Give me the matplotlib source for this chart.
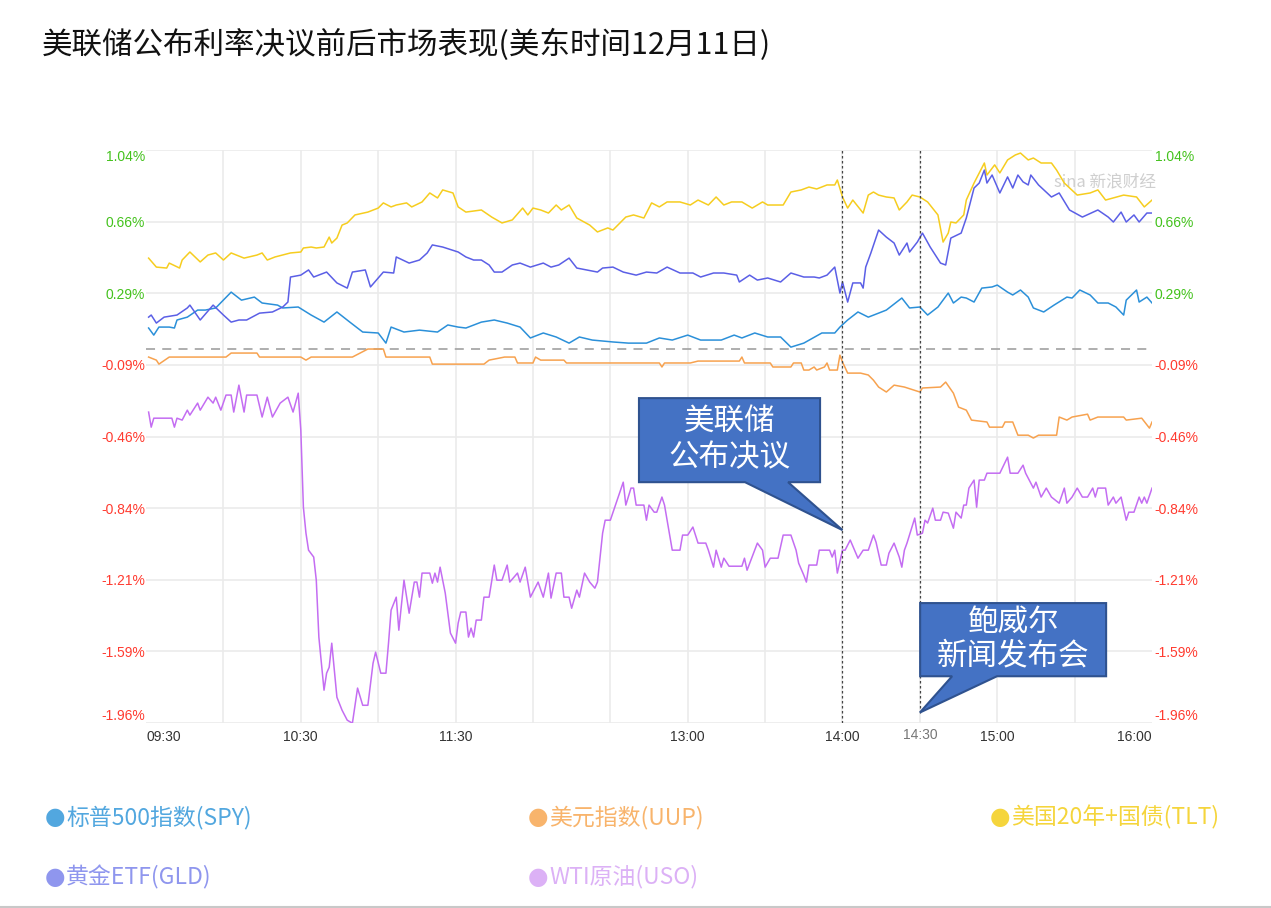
import matplotlib
matplotlib.use("Agg")
import matplotlib.pyplot as plt
from matplotlib.patches import Polygon
from matplotlib.lines import Line2D

plt.rcParams['font.family'] = ['Noto Sans CJK SC', 'DejaVu Sans']

# minutes after 09:30, percent change
spy = [(1, 0.108), (3, 0.071), (5, 0.113), (9, 0.113), (11, 0.108), (12, 0.150), (16, 0.165), (20, 0.202),
       (23, 0.202), (27, 0.213), (33, 0.296), (37, 0.254), (42, 0.270), (45, 0.239), (51, 0.228), (53, 0.213),
       (59, 0.218), (64, 0.176), (69, 0.139), (74, 0.192), (79, 0.139), (84, 0.087), (90, 0.082), (93, 0.029),
       (95, 0.113), (100, 0.087), (106, 0.097), (113, 0.087), (117, 0.124), (121, 0.113), (124, 0.108),
       (130, 0.139), (135, 0.150), (140, 0.134), (145, 0.113), (149, 0.056), (154, 0.082), (159, 0.061),
       (164, 0.029), (168, 0.061), (173, 0.045), (181, 0.035), (187, 0.029), (194, 0.029), (199, 0.056),
       (204, 0.045), (210, 0.071), (215, 0.045), (223, 0.045), (228, 0.071), (231, 0.056), (236, 0.082),
       (241, 0.061), (246, 0.061), (250, 0.008), (255, 0.029), (262, 0.082), (267, 0.082), (269, 0.113),
       (272, 0.150), (276, 0.192), (280, 0.165), (284, 0.186), (287, 0.202), (293, 0.265), (296, 0.213),
       (300, 0.218), (303, 0.176), (307, 0.218), (311, 0.291), (313, 0.239), (316, 0.270), (318, 0.265),
       (321, 0.244), (324, 0.317), (328, 0.323), (330, 0.333), (334, 0.296), (336, 0.281), (339, 0.307),
       (342, 0.270), (344, 0.213), (348, 0.192), (352, 0.228), (357, 0.270), (359, 0.265), (362, 0.307),
       (366, 0.281), (369, 0.239), (373, 0.239), (376, 0.218), (379, 0.176), (380, 0.254), (384, 0.307),
       (385, 0.244), (388, 0.270), (390, 0.239)]

uup = [(1, -0.044), (4, -0.060), (5, -0.081), (9, -0.044), (31, -0.044), (33, -0.023), (43, -0.023),
       (44, -0.044), (60, -0.044), (62, -0.060), (64, -0.044), (80, -0.044), (83, -0.023), (86, -0.002),
       (92, -0.002), (93, -0.044), (110, -0.044), (111, -0.081), (131, -0.081), (133, -0.060), (139, -0.044),
       (143, -0.044), (144, -0.075), (150, -0.075), (151, -0.044), (153, -0.060), (162, -0.060), (163, -0.075),
       (199, -0.075), (200, -0.096), (201, -0.075), (211, -0.075), (214, -0.065), (230, -0.065), (231, -0.044),
       (232, -0.075), (242, -0.075), (243, -0.096), (250, -0.096), (251, -0.075), (254, -0.075), (255, -0.112),
       (257, -0.112), (259, -0.096), (260, -0.112), (263, -0.096), (264, -0.075), (265, -0.112), (268, -0.112),
       (269, -0.034), (270, -0.070), (272, -0.128), (277, -0.128), (280, -0.138), (282, -0.165), (284, -0.201),
       (287, -0.227), (290, -0.191), (294, -0.201), (300, -0.227), (301, -0.206), (308, -0.201), (310, -0.175),
       (313, -0.233), (315, -0.306), (318, -0.322), (320, -0.374), (326, -0.384), (327, -0.411), (332, -0.411),
       (333, -0.384), (336, -0.384), (338, -0.453), (342, -0.453), (344, -0.468), (346, -0.453), (353, -0.453),
       (354, -0.358), (357, -0.374), (359, -0.358), (365, -0.343), (366, -0.374), (369, -0.358), (379, -0.358),
       (380, -0.374), (386, -0.364), (389, -0.416), (390, -0.384)]

tlt = [(1, 0.474), (4, 0.427), (8, 0.422), (9, 0.448), (13, 0.422), (14, 0.464), (17, 0.506), (21, 0.454),
       (24, 0.490), (27, 0.501), (30, 0.464), (33, 0.501), (38, 0.474), (43, 0.490), (45, 0.501), (47, 0.464),
       (50, 0.480), (56, 0.501), (60, 0.506), (61, 0.527), (64, 0.532), (66, 0.527), (69, 0.532), (71, 0.584),
       (72, 0.553), (74, 0.579), (76, 0.647), (78, 0.658), (81, 0.700), (86, 0.715), (90, 0.736), (92, 0.763),
       (95, 0.742), (97, 0.752), (101, 0.763), (103, 0.742), (107, 0.768), (110, 0.815), (113, 0.789),
       (115, 0.831), (119, 0.815), (121, 0.742), (124, 0.715), (130, 0.726), (134, 0.689), (138, 0.658),
       (142, 0.674), (146, 0.736), (148, 0.700), (150, 0.736), (153, 0.726), (156, 0.710), (159, 0.752),
       (161, 0.726), (164, 0.752), (167, 0.684), (172, 0.647), (175, 0.611), (179, 0.632), (181, 0.621),
       (186, 0.689), (189, 0.700), (193, 0.684), (196, 0.763), (199, 0.742), (202, 0.768), (207, 0.768),
       (211, 0.752), (214, 0.778), (218, 0.752), (221, 0.794), (224, 0.752), (227, 0.768), (231, 0.768),
       (235, 0.736), (239, 0.768), (241, 0.752), (247, 0.752), (250, 0.820), (254, 0.831), (257, 0.846),
       (260, 0.836), (264, 0.857), (267, 0.857), (268, 0.883), (270, 0.794), (272, 0.736), (274, 0.778),
       (278, 0.710), (280, 0.804), (282, 0.820), (284, 0.804), (287, 0.794), (290, 0.789), (292, 0.726),
       (295, 0.768), (297, 0.804), (300, 0.794), (303, 0.768), (307, 0.700), (309, 0.558), (311, 0.605),
       (312, 0.663), (314, 0.658), (317, 0.700), (318, 0.778), (321, 0.867), (323, 0.920), (325, 0.972),
       (326, 0.909), (329, 0.962), (331, 0.920), (334, 0.988), (337, 1.014), (339, 1.024), (342, 0.988),
       (344, 0.998), (347, 0.972), (351, 0.972), (353, 0.935), (356, 0.867), (361, 0.804), (366, 0.815),
       (369, 0.831), (372, 0.778), (375, 0.789), (379, 0.804), (384, 0.794), (387, 0.742), (390, 0.778)]

gld = [(1, 0.165), (2, 0.176), (4, 0.134), (7, 0.165), (12, 0.176), (16, 0.213), (17, 0.228), (21, 0.150),
       (26, 0.228), (30, 0.176), (33, 0.139), (36, 0.150), (39, 0.150), (44, 0.186), (49, 0.192), (53, 0.218),
       (55, 0.244), (56, 0.375), (60, 0.385), (63, 0.412), (65, 0.375), (70, 0.401), (74, 0.344), (78, 0.317),
       (80, 0.401), (85, 0.412), (87, 0.323), (92, 0.401), (96, 0.396), (97, 0.480), (102, 0.448), (106, 0.464),
       (109, 0.501), (111, 0.543), (115, 0.532), (121, 0.506), (124, 0.480), (127, 0.464), (130, 0.464),
       (133, 0.438), (135, 0.401), (138, 0.401), (142, 0.438), (145, 0.448), (149, 0.427), (154, 0.448),
       (157, 0.427), (160, 0.438), (164, 0.474), (167, 0.422), (175, 0.401), (177, 0.422), (181, 0.427),
       (185, 0.401), (190, 0.385), (194, 0.401), (198, 0.396), (202, 0.427), (207, 0.396), (212, 0.396),
       (215, 0.375), (220, 0.396), (224, 0.396), (229, 0.385), (230, 0.349), (234, 0.385), (237, 0.359),
       (241, 0.370), (246, 0.349), (250, 0.396), (255, 0.375), (259, 0.375), (261, 0.370), (264, 0.385),
       (267, 0.427), (269, 0.291), (270, 0.349), (272, 0.244), (274, 0.344), (277, 0.344), (278, 0.317),
       (279, 0.427), (281, 0.501), (284, 0.621), (287, 0.584), (290, 0.553), (292, 0.490), (295, 0.553),
       (296, 0.506), (299, 0.558), (301, 0.605), (304, 0.532), (308, 0.448), (310, 0.438), (312, 0.579),
       (316, 0.605), (318, 0.684), (321, 0.841), (323, 0.867), (325, 0.935), (326, 0.867), (328, 0.909),
       (331, 0.815), (334, 0.899), (336, 0.841), (338, 0.909), (340, 0.873), (342, 0.857), (343, 0.909),
       (346, 0.857), (351, 0.794), (354, 0.815), (358, 0.726), (363, 0.689), (369, 0.726), (373, 0.689),
       (375, 0.663), (378, 0.715), (380, 0.663), (383, 0.700), (385, 0.663), (388, 0.710), (390, 0.710)]

uso = [(1, -0.332), (2, -0.411), (3, -0.364), (10, -0.364), (11, -0.411), (12, -0.364), (14, -0.374),
       (16, -0.322), (17, -0.348), (20, -0.285), (21, -0.322), (24, -0.254), (26, -0.285), (27, -0.254),
       (29, -0.322), (31, -0.243), (33, -0.243), (34, -0.332), (36, -0.191), (38, -0.332), (39, -0.243),
       (43, -0.243), (45, -0.358), (47, -0.254), (49, -0.358), (52, -0.285), (55, -0.254), (57, -0.332),
       (59, -0.233), (60, -0.426), (61, -0.830), (62, -0.966), (63, -1.055), (65, -1.091), (66, -1.212),
       (67, -1.510), (69, -1.788), (70, -1.699), (71, -1.668), (72, -1.542), (73, -1.683), (74, -1.825),
       (76, -1.893), (78, -1.945), (80, -1.961), (82, -1.777), (84, -1.867), (86, -1.867), (88, -1.647),
       (89, -1.589), (91, -1.699), (93, -1.699), (94, -1.542), (95, -1.369), (97, -1.301), (98, -1.474),
       (100, -1.212), (102, -1.385), (104, -1.222), (105, -1.222), (106, -1.301), (107, -1.175), (110, -1.175),
       (111, -1.228), (112, -1.175), (113, -1.222), (114, -1.144), (116, -1.280), (118, -1.489), (120, -1.542),
       (121, -1.437), (122, -1.379), (124, -1.379), (125, -1.510), (126, -1.463), (127, -1.510), (128, -1.421),
       (130, -1.421), (131, -1.301), (133, -1.301), (135, -1.133), (136, -1.212), (138, -1.212), (140, -1.133),
       (141, -1.222), (144, -1.175), (145, -1.222), (147, -1.144), (149, -1.301), (152, -1.222), (154, -1.301),
       (156, -1.175), (157, -1.306), (159, -1.175), (161, -1.175), (162, -1.301), (164, -1.301), (165, -1.359),
       (167, -1.264), (168, -1.301), (170, -1.175), (172, -1.222), (174, -1.254), (175, -1.222), (177, -0.966),
       (178, -0.898), (180, -0.898), (185, -0.699), (186, -0.819), (188, -0.730), (189, -0.730), (190, -0.819),
       (193, -0.819), (194, -0.898), (195, -0.819), (197, -0.856), (198, -0.856), (200, -0.777), (201, -0.819),
       (204, -1.055), (207, -1.055), (208, -0.976), (210, -0.976), (212, -0.934), (214, -1.018), (217, -1.018),
       (218, -1.055), (220, -1.144), (221, -1.055), (223, -1.144), (224, -1.097), (226, -1.139), (231, -1.139),
       (232, -1.097), (233, -1.160), (237, -1.018), (239, -1.055), (240, -1.144), (242, -1.097), (245, -1.097),
       (247, -0.976), (250, -0.976), (252, -1.055), (253, -1.123), (255, -1.186), (256, -1.222), (257, -1.133),
       (260, -1.133), (261, -1.055), (265, -1.055), (266, -1.091), (267, -1.055), (268, -1.175), (270, -1.055),
       (271, -1.055), (273, -1.002), (276, -1.097), (278, -1.055), (280, -1.055), (282, -0.976), (283, -1.013),
       (285, -1.133), (287, -1.133), (288, -1.071), (290, -1.018), (292, -1.091), (293, -1.144), (294, -1.055),
       (295, -1.018), (298, -0.887), (299, -0.976), (301, -0.966), (302, -0.898), (303, -0.913), (305, -0.835),
       (306, -0.898), (308, -0.898), (309, -0.856), (311, -0.861), (313, -0.940), (314, -0.856), (316, -0.887),
       (317, -0.819), (318, -0.819), (319, -0.730), (321, -0.688), (322, -0.830), (323, -0.688), (325, -0.688),
       (326, -0.652), (331, -0.652), (334, -0.568), (335, -0.652), (338, -0.652), (340, -0.610), (341, -0.652),
       (344, -0.730), (345, -0.699), (347, -0.777), (349, -0.730), (351, -0.777), (354, -0.809), (356, -0.730),
       (357, -0.809), (359, -0.777), (361, -0.730), (363, -0.777), (365, -0.777), (367, -0.730), (368, -0.777),
       (369, -0.730), (372, -0.730), (373, -0.819), (375, -0.777), (376, -0.809), (378, -0.777), (380, -0.898),
       (381, -0.856), (383, -0.856), (385, -0.777), (386, -0.809), (387, -0.777), (388, -0.809), (390, -0.730)]

series_names = ['标普500指数(SPY)', '美元指数(UUP)', '美国20年+国债(TLT)', '黄金ETF(GLD)', 'WTI原油(USO)']
line_colors = ['#2b90d9', '#f7a24f', '#f6cd1f', '#5b5fe6', '#c46df2']
legend_colors = ['#52a7df', '#f8b46c', '#f5d53c', '#8f96ee', '#dcb1f6']

xtick_pos = [0, 60, 120, 210, 270, 330, 390]
xtick_labels = ['09:30', '10:30', '11:30', '13:00', '14:00', '15:00', '16:00']
ytick_labels = ['-1.96%', '-1.59%', '-1.21%', '-0.84%', '-0.46%', '-0.09%', '0.29%', '0.66%', '1.04%']
y_min, y_max = -1.96, 1.04

fig = plt.figure(figsize=(12.71, 9.08), dpi=100)
ax = fig.add_axes([0.1149, 0.2037, 0.7915, 0.6311])

for data, c in zip([spy, uup, tlt, gld, uso], line_colors):
    t, v = zip(*data)
    ax.plot(t, v, color=c, lw=1.1, zorder=3)

ax.axhline(0, color='#a8a8a8', lw=1.3, ls=(0, (5, 4)), zorder=2)

ax.set_xlim(0, 390)
ax.set_ylim(y_min, y_max)
yticks = [y_min + i * (y_max - y_min) / 8 for i in range(9)]
for s in ax.spines.values():
    s.set_visible(False)

# grid
for yv in yticks:
    ax.axhline(yv, color='#ebebeb', lw=1.2, zorder=1)
for m in range(30, 390, 30):
    ax.axvline(m, color='#ebebeb', lw=1.2, zorder=1)

ax.set_xticks(xtick_pos)
ax.set_xticklabels(xtick_labels, fontsize=10, color='#333333', family=['Liberation Sans', 'DejaVu Sans'])
ax.tick_params(axis='x', length=0, pad=5)
xl = ax.get_xticklabels()
xl[0].set_ha('left')
xl[-1].set_ha('right')
ax.text(300, y_min - 0.025, '14:30', ha='center', va='top', fontsize=10, color='#777777',
        family=['Liberation Sans', 'DejaVu Sans'])

ycolors = ['#44c21d' if not lbl.startswith('-') else '#ff3b30' for lbl in ytick_labels]
ax2 = ax.twinx()
ax2.set_ylim(y_min, y_max)
for s in ax2.spines.values():
    s.set_visible(False)
for a, pad in [(ax, 0.5), (ax2, 2)]:
    a.set_yticks(yticks)
    a.set_yticklabels(ytick_labels, fontsize=10, family=['Liberation Sans', 'DejaVu Sans'])
    a.tick_params(axis='y', length=0, pad=pad)
    labels = a.get_yticklabels()
    for lbl, c in zip(labels, ycolors):
        lbl.set_color(c)
    labels[0].set_va('bottom')
    labels[-1].set_va('top')

# event lines
ax.axvline(270, color='#444444', lw=0.9, ls=(0, (2, 2)), zorder=4)
ax.plot([300, 300], [-1.905, y_max], color='#444444', lw=0.9, ls=(0, (2, 2)), zorder=4)

# callouts
def callout(x0, x1, y0, y1, base_a, base_b, tip, text, tx, ty, ls):
    verts = [(x0, y1), (x1, y1), (x1, y0), (base_b, y0), tip, (base_a, y0), (x0, y0)]
    ax.add_patch(Polygon(verts, closed=True, facecolor='#4472c4', edgecolor='#2f528f',
                         lw=1.5, zorder=6, clip_on=False))
    ax.text(tx, ty, text, ha='center', va='center', color='white', fontsize=22,
            linespacing=ls, zorder=7)

callout(191.1, 261.3, -0.699, -0.259, 232.2, 248.9, (270, -0.950),
        '美联储\n公布决议', 226.3, -0.475, 1.25)
callout(300.1, 372.2, -1.715, -1.332, 312.5, 329.9, (300, -1.905),
        '鲍威尔\n新闻发布会', 336.2, -1.52, 1.1)

# watermark
ax.text(352, 0.872, 'sina 新浪财经', fontsize=12, color='#cfcfcf', ha='left', va='center',
        style='italic', zorder=2)

# title
fig.text(0.033, 1 - 45 / 908, '美联储公布利率决议前后市场表现(美东时间12月11日)', fontsize=22,
         style='italic', color='#111111', va='center', ha='left')

# legend
leg_pos = [(45, 817), (528, 817), (990, 817), (45, 877), (528, 877)]
for (px, py), name, c in zip(leg_pos, series_names, legend_colors):
    fig.text(px / 1271, 1 - py / 908, '●', fontsize=17, color=c, va='center', ha='left',
             family=['DejaVu Sans'])
    fig.text((px + 21) / 1271, 1 - py / 908, name, fontsize=16.5, color=c, va='center', ha='left')

fig.add_artist(Line2D([0, 1], [0.0015, 0.0015], transform=fig.transFigure, color='#c8c8c8', lw=1.5))

fig.savefig('out.png', dpi=100)
